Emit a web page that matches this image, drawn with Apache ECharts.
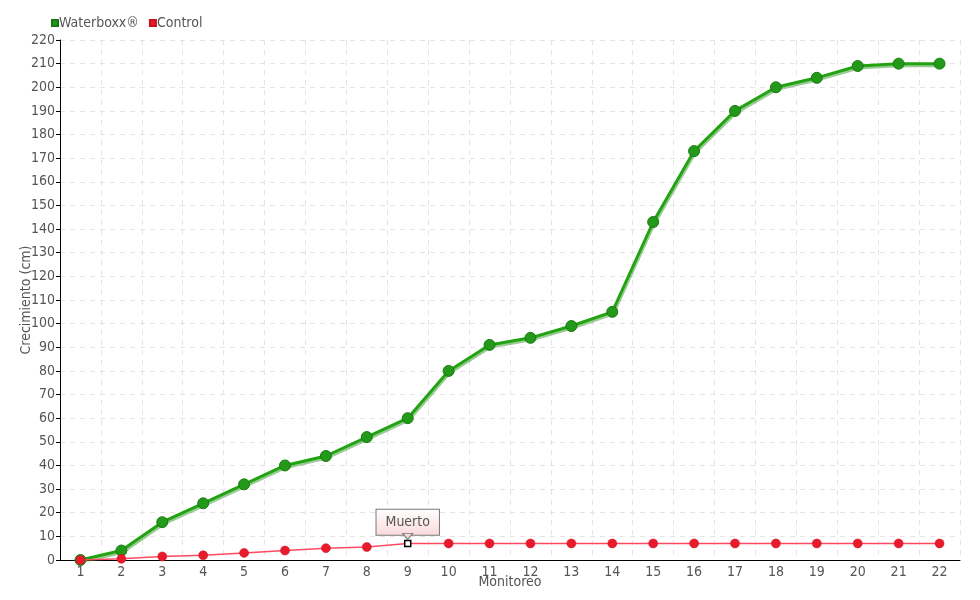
<!DOCTYPE html>
<html><head><meta charset="utf-8">
<script src="https://cdn.jsdelivr.net/npm/echarts@6/dist/echarts.min.js"></script>
<style>html,body{margin:0;padding:0;background:#fff}#c{width:980px;height:600px}</style>
</head><body><div id="c"></div>
<script>
const categories = ['1','2','3','4','5','6','7','8','9','10','11','12','13','14','15','16','17','18','19','20','21','22'];
const waterboxx = [0,4,16,24,32,40,44,52,60,80,91,94,99,105,143,173,190,200,204,209,210,210];
const control = [0,0.5,1.5,2,3,4,5,5.5,7,7,7,7,7,7,7,7,7,7,7,7,7,7];
const deathIndex = 8;
const deathLabel = 'Muerto';

const FONT = '"DejaVu Sans Condensed", "Liberation Sans Narrow", "Roboto Condensed", sans-serif';
const chart = echarts.init(document.getElementById('c'));
const controlData = control.map((v, i) => i === deathIndex ? {
  value: v,
  symbol: 'rect', symbolSize: 6,
  itemStyle: {color: '#fff', borderColor: '#000', borderWidth: 1.5},
  label: {
    show: true, position: 'top', distance: 5, formatter: deathLabel,
    fontFamily: FONT, fontSize: 14, color: '#555',
    padding: [6, 9, 5, 9],
    borderColor: '#777', borderWidth: 1,
    backgroundColor: {type: 'linear', x: 0, y: 0, x2: 0, y2: 1,
      colorStops: [{offset: 0, color: '#ffffff'}, {offset: 1, color: '#fbd9d9'}]}
  }
} : v);

chart.setOption({
  animation: false,
  textStyle: {fontFamily: FONT},
  legend: {
    left: 46, top: 11, itemWidth: 6, itemHeight: 6, itemGap: 10,
    icon: 'rect',
    textStyle: {fontFamily: FONT, fontSize: 14, color: '#555', padding: [0, 0, 0, -4]},
    data: ['Waterboxx®', 'Control']
  },
  grid: {left: 60, right: 20, top: 40, bottom: 40, outerBoundsMode: 'none', containLabel: false},
  xAxis: {
    type: 'category', data: categories, boundaryGap: true,
    name: 'Monitoreo', nameLocation: 'middle', nameGap: 15, nameMoveOverlap: false,
    nameTextStyle: {fontFamily: FONT, fontSize: 14, color: '#555'},
    axisLine: {lineStyle: {color: '#000', width: 1}},
    axisTick: {alignWithLabel: true, length: 5, lineStyle: {color: '#000'}},
    axisLabel: {fontFamily: FONT, fontSize: 14, color: '#555', margin: 5},
    splitLine: {show: true, lineStyle: {color: '#e4e4e4', type: [5, 5]}}
  },
  yAxis: {
    type: 'value', min: 0, max: 220, interval: 10,
    name: 'Crecimiento (cm)', nameLocation: 'middle', nameGap: 27, nameMoveOverlap: false,
    nameTextStyle: {fontFamily: FONT, fontSize: 14, color: '#555'},
    axisLine: {show: true, lineStyle: {color: '#000', width: 1}},
    axisTick: {show: true, length: 4, lineStyle: {color: '#000'}},
    axisLabel: {fontFamily: FONT, fontSize: 14, color: '#555', margin: 5},
    splitLine: {show: true, lineStyle: {color: '#e4e4e4', type: [5, 5]}}
  },
  series: [
    {
      name: 'Waterboxx®', type: 'line', data: waterboxx, z: 3,
      symbol: 'circle', symbolSize: 11,
      color: '#22a412',
      lineStyle: {color: '#22a412', width: 3, shadowColor: 'rgba(30,140,20,0.45)', shadowOffsetY: 2, shadowOffsetX: 1},
      itemStyle: {color: '#229919', borderColor: '#1a7a12', borderWidth: 1}
    },
    {
      name: 'Control', type: 'line', data: controlData, z: 4,
      symbol: 'circle', symbolSize: 9,
      color: '#ee1c2e',
      lineStyle: {color: '#ff4a62', width: 1.5},
      itemStyle: {color: '#e81a2c', borderColor: '#c81020', borderWidth: 0.5},
      markPoint: {
        silent: true, symbol: 'triangle', symbolSize: [10, 6], symbolRotate: 180,
        symbolOffset: [0, -7],
        itemStyle: {color: '#fbdcdc', borderColor: '#777', borderWidth: 1},
        label: {show: false},
        data: [{coord: [deathIndex, control[deathIndex]]}]
      }
    }
  ]
});
</script></body></html>
